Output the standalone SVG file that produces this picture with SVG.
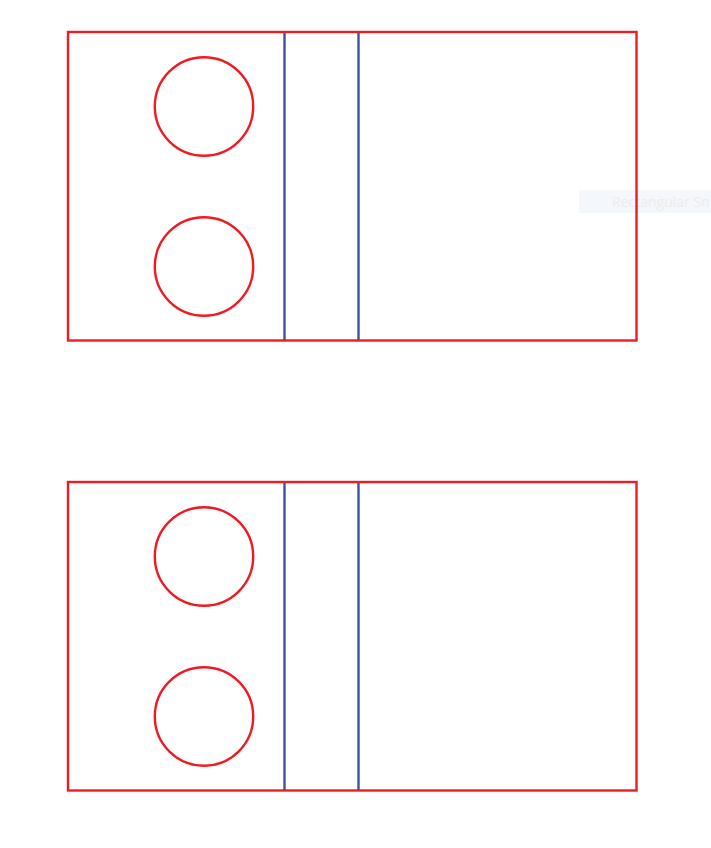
<svg xmlns="http://www.w3.org/2000/svg" width="711" height="848" viewBox="0 0 711 848">
<style>
.frame{fill:none;stroke:#ed1c24;stroke-width:2.4}
.hole{fill:none;stroke:#ed1c24;stroke-width:2.4}
.div{stroke:#3a53a4;stroke-width:2.4}
.tip{fill:#f4f7fc}
.tiptext{font-family:"Open Sans","Liberation Sans",sans-serif;font-size:14px;fill:#ececec}
</style>
<rect width="711" height="848" fill="#ffffff"/>
<g id="tooltip">
<rect class="tip" x="579" y="190" width="132" height="23"/>
<text class="tiptext" x="612" y="207">Rectangular Sn</text>
</g>
<g id="plate-top">
<rect class="frame" x="68" y="32" width="568.5" height="308.5"/>
<circle class="hole" cx="204" cy="106.5" r="49.2"/>
<circle class="hole" cx="204" cy="266.5" r="49.2"/>
<line class="div" x1="284.5" y1="33" x2="284.5" y2="340"/>
<line class="div" x1="358.5" y1="33" x2="358.5" y2="340"/>
</g>
<g id="plate-bottom">
<rect class="frame" x="68" y="482" width="568.5" height="308.5"/>
<circle class="hole" cx="204" cy="556.5" r="49.2"/>
<circle class="hole" cx="204" cy="716.5" r="49.2"/>
<line class="div" x1="284.5" y1="483" x2="284.5" y2="790"/>
<line class="div" x1="358.5" y1="483" x2="358.5" y2="790"/>
</g>
<g id="connectors"></g>
</svg>
